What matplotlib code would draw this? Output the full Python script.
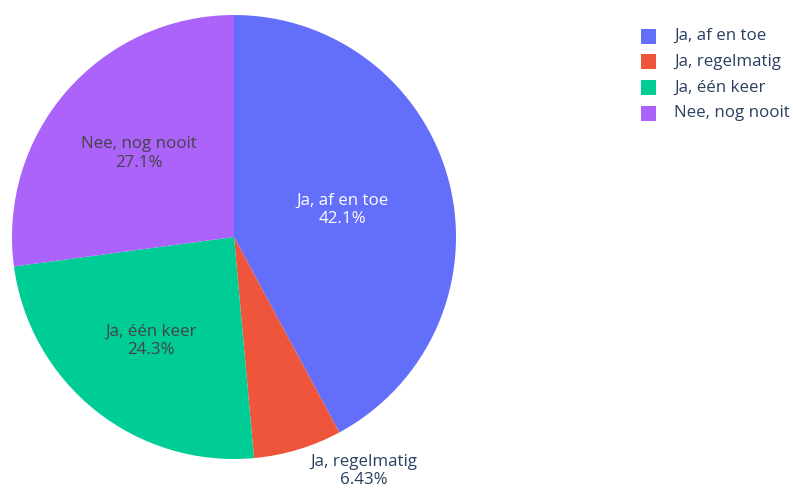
import numpy as np
import matplotlib.pyplot as plt
from matplotlib.patches import Rectangle

plt.rcParams['font.family'] = ['Open Sans', 'DejaVu Sans']

labels = ['Ja, af en toe', 'Ja, regelmatig', 'Ja, één keer', 'Nee, nog nooit']
percent = [42.1, 6.43, 24.3, 27.1]
colors = ['#636efa', '#EF553B', '#00cc96', '#ab63fa']
pct_text = ['42.1%', '6.43%', '24.3%', '27.1%']

W, H = 793, 488
fig = plt.figure(figsize=(W / 100, H / 100), dpi=100)

# pie box in pixels: centre (234, 237), radius 222
cx, cy, R = 234, 237, 222
ax = fig.add_axes([(cx - R) / W, (H - cy - R) / H, 2 * R / W, 2 * R / H])
wedges, _ = ax.pie(percent, colors=colors, startangle=90, counterclock=False,
                   radius=1, wedgeprops=dict(linewidth=0))
ax.set_xlim(-1, 1)
ax.set_ylim(-1, 1)
ax.set_aspect('equal')

fs = 12.2
dark = '#2a3f5f'
# inside labels: radial fraction and text colour per slice
inside = {0: (0.505, 'white'), 2: (0.60, '#444444'), 3: (0.57, '#444444')}
for i, w in enumerate(wedges):
    mid = np.deg2rad((w.theta1 + w.theta2) / 2)
    if i in inside:
        r, c = inside[i]
        ax.text(r * np.cos(mid), r * np.sin(mid), labels[i] + '\n' + pct_text[i],
                ha='center', va='center', fontsize=fs, color=c, linespacing=1.2)
    else:
        ax.annotate(labels[i] + '\n' + pct_text[i],
                    xy=(np.cos(mid), np.sin(mid)), xytext=(12, -4),
                    textcoords='offset pixels', ha='left', va='top',
                    fontsize=fs, color=dark, linespacing=1.2,
                    multialignment='center', annotation_clip=False)

# legend
for i, lab in enumerate(labels):
    yc = 36 + i * 25.7
    fig.add_artist(Rectangle((641 / W, (H - yc - 7.5) / H), 15 / W, 15 / H,
                             transform=fig.transFigure, color=colors[i], lw=0))
    fig.text(674 / W, (H - yc) / H, lab, ha='left', va='center',
             fontsize=fs, color=dark)

fig.savefig('out.png', dpi=100)
